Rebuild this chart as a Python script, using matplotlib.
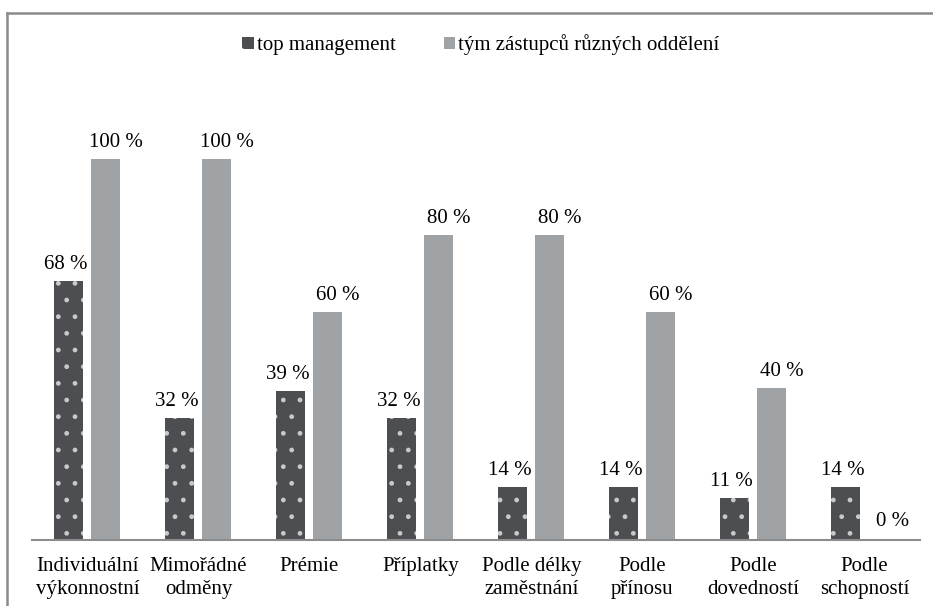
import matplotlib
matplotlib.use("Agg")
import matplotlib.pyplot as plt
import numpy as np
from matplotlib.lines import Line2D
from matplotlib.patches import Patch

plt.rcParams['font.family'] = ['Liberation Serif', 'DejaVu Serif']
plt.rcParams['hatch.color'] = '#c8c9cb'
plt.rcParams['hatch.linewidth'] = 1.0

categories = ["Individuální\nvýkonnostní", "Mimořádné\nodměny", "Prémie", "Příplatky",
              "Podle délky\nzaměstnání", "Podle\npřínosu", "Podle\ndovedností", "Podle\nschopností"]
top_mgmt = [68, 32, 39, 32, 14, 14, 11, 14]
team = [100, 100, 60, 80, 80, 60, 40, 0]
series_names = ["top management", "tým zástupců různých oddělení"]

W, H = 933, 606
fig = plt.figure(figsize=(W / 100, H / 100), dpi=100)
ax = fig.add_axes([32 / W, (H - 540) / H, (920 - 32) / W, (540 - 83) / H])

x = np.arange(len(categories))
bw = 0.262
dark = '#4c4e51'
light = '#a0a3a6'
b1 = ax.bar(x - 0.17, top_mgmt, bw, color=dark, hatch='.', linewidth=0)
b2 = ax.bar(x + 0.165, team, bw, color=light, linewidth=0)

fs = 15
for xi, v in zip(x, top_mgmt):
    ax.annotate(f"{v} %", (xi - 0.17, v), xytext=(-3, 7), textcoords='offset pixels',
                ha='center', va='bottom', fontsize=fs)
for xi, v in zip(x, team):
    ax.annotate(f"{v} %", (xi + 0.165, v), xytext=(10, 7 if v > 0 else 9), textcoords='offset pixels',
                ha='center', va='bottom', fontsize=fs)

ax.set_xlim(-0.5, len(categories) - 0.5)
ax.set_ylim(0, 120)
ax.set_xticks(x)
ax.set_xticklabels(categories, fontsize=fs, linespacing=1.3)
ax.tick_params(axis='x', length=0, pad=12)
ax.set_yticks([])
for s in ['top', 'right', 'left']:
    ax.spines[s].set_visible(False)
ax.spines['bottom'].set_color('#8c8c8c')
ax.spines['bottom'].set_linewidth(1.5)

handles = [Patch(facecolor=dark, hatch='.', linewidth=0), Patch(facecolor=light, linewidth=0)]
fig.legend(handles, series_names, loc='center', bbox_to_anchor=(481 / W, 1 - 45 / H),
           ncol=2, frameon=False, fontsize=fs, handlelength=0.55, handleheight=0.55,
           handletextpad=0.15, columnspacing=2.3)

# outer frame (top and left edges visible in the crop)
fig.add_artist(Line2D([7 / W, 1], [1 - 13 / H, 1 - 13 / H], color='#8a8a8a', lw=1.8,
                      transform=fig.transFigure))
fig.add_artist(Line2D([7 / W, 7 / W], [0, 1 - 13 / H], color='#8a8a8a', lw=1.8,
                      transform=fig.transFigure))

fig.savefig("out.png", dpi=100, facecolor='white')
